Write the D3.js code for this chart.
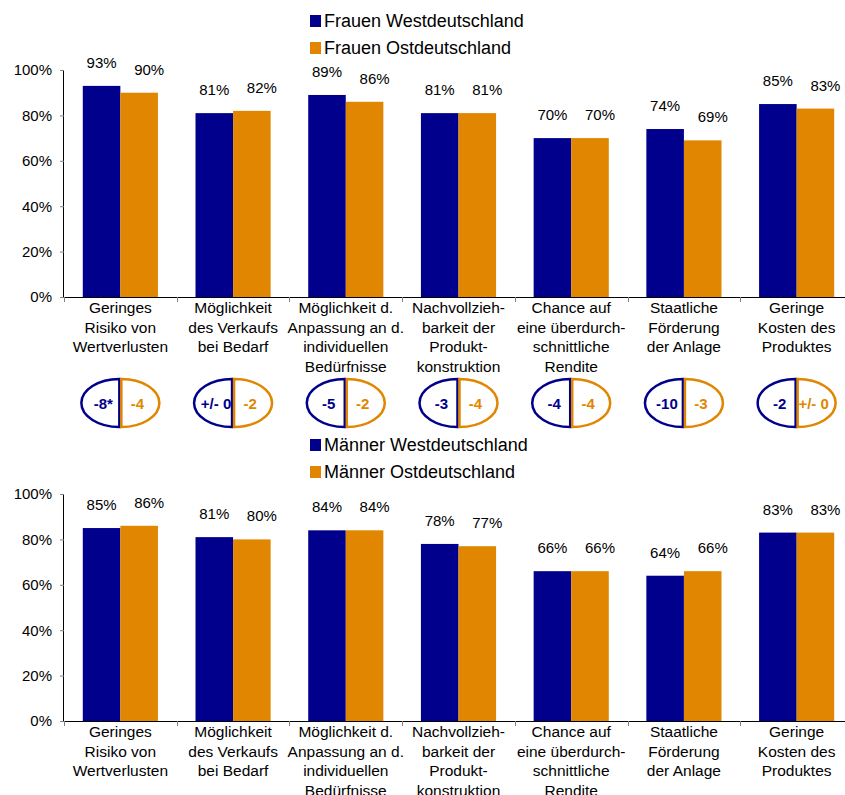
<!DOCTYPE html>
<html>
<head>
<meta charset="utf-8">
<script src="https://cdn.jsdelivr.net/npm/d3@7"></script>
<style>
  body { margin: 0; background: #fff; }
  text { font-family: "Liberation Sans", Arial, sans-serif; fill: #000; }
</style>
</head>
<body>
<script>
const width = 845;
const height = 795;

const blue = "#00008c";
const orange = "#e08600";

// categories (line breaks as in the chart)
const categories = [
  ["Geringes", "Risiko von", "Wertverlusten"],
  ["Möglichkeit", "des Verkaufs", "bei Bedarf"],
  ["Möglichkeit d.", "Anpassung an d.", "individuellen", "Bedürfnisse"],
  ["Nachvollzieh-", "barkeit der", "Produkt-", "konstruktion"],
  ["Chance auf", "eine überdurch-", "schnittliche", "Rendite"],
  ["Staatliche", "Förderung", "der Anlage"],
  ["Geringe", "Kosten des", "Produktes"]
];

const frauenWest = [93, 81, 89, 81, 70, 74, 85];
const frauenOst  = [90, 82, 86, 81, 70, 69, 83];
const maennerWest = [85, 81, 84, 78, 66, 64, 83];
const maennerOst  = [86, 80, 84, 77, 66, 66, 83];

// differences shown in the ovals
const diffWest = ["-8*", "+/- 0", "-5", "-3", "-4", "-10", "-2"];
const diffOst  = ["-4", "-2", "-2", "-4", "-4", "-3", "+/- 0"];

const yTicks = [0, 20, 40, 60, 80, 100];

const svg = d3.select("body")
  .append("svg")
  .attr("width", width)
  .attr("height", height);

var x0 = d3.scaleBand()
  .domain(d3.range(categories.length))
  .range([64, 853]);

var x1 = d3.scaleBand()
  .domain(["west", "ost"])
  .range([0, x0.bandwidth()])
  .paddingOuter(0.5);

function drawPanel(top, west, ost, legendNames) {
  var g = svg.append("g").attr("transform", "translate(0," + top + ")");

  var y = d3.scaleLinear().domain([0, 100]).range([297, 70]);

  // legend
  var legend = g.selectAll(".legend")
    .data([[legendNames[0], blue], [legendNames[1], orange]])
    .enter().append("g")
    .attr("transform", function(d, i) { return "translate(310," + (15 + i * 27) + ")"; });
  legend.append("rect")
    .attr("width", 11).attr("height", 12)
    .style("fill", function(d) { return d[1]; });
  legend.append("text")
    .attr("x", 14).attr("y", 12)
    .style("font-size", "18px")
    .text(function(d) { return d[0]; });

  // y axis
  var yAxis = d3.axisLeft(y)
    .tickValues(yTicks)
    .tickSize(4)
    .tickPadding(8)
    .tickFormat(function(d) { return d + "%"; });
  var ya = g.append("g")
    .attr("transform", "translate(64,0)")
    .call(yAxis);
  ya.select(".domain").attr("d", "M-0.5," + y(100) + "V" + y(0)).attr("stroke", "#000");
  ya.selectAll(".tick line").attr("stroke", "#808080");
  ya.selectAll("text").style("font-size", "15px").style("font-family", "Liberation Sans, Arial, sans-serif").attr("fill", "#000");

  // bars
  var rows = categories.map(function(c, i) {
    return [{ key: "west", i: i, v: west[i] }, { key: "ost", i: i, v: ost[i] }];
  });
  var grp = g.selectAll(".grp")
    .data(rows)
    .enter().append("g")
    .attr("transform", function(d, i) { return "translate(" + x0(i) + ",0)"; });

  grp.selectAll("rect")
    .data(function(d) { return d; })
    .enter().append("rect")
    .attr("x", function(d) { return x1(d.key); })
    .attr("width", x1.bandwidth())
    .attr("y", function(d) { return y(d.v); })
    .attr("height", function(d) { return y(0) - y(d.v); })
    .style("fill", function(d) { return d.key == "west" ? blue : orange; });

  grp.selectAll(".val")
    .data(function(d) { return d; })
    .enter().append("text")
    .attr("text-anchor", "middle")
    .attr("x", function(d) { return x1(d.key) + x1.bandwidth() / 2 + (d.key == "ost" ? 10 : 0); })
    .attr("y", function(d) { return y(d.v) - 18; })
    .style("font-size", "15px")
    .text(function(d) { return d.v + "%"; });

  // x axis line + ticks
  g.append("line")
    .attr("x1", 64).attr("x2", width)
    .attr("y1", y(0) + 0.5).attr("y2", y(0) + 0.5)
    .attr("stroke", "#000");
  g.selectAll(".xtick")
    .data(d3.range(categories.length))
    .enter().append("line")
    .attr("x1", function(d) { return Math.round(x0(d)) + 0.5; })
    .attr("x2", function(d) { return Math.round(x0(d)) + 0.5; })
    .attr("y1", y(0)).attr("y2", y(0) + 5)
    .attr("stroke", "#808080");

  // category labels
  g.selectAll(".cat")
    .data(categories)
    .enter().append("text")
    .attr("text-anchor", "middle")
    .attr("transform", function(d, i) { return "translate(" + (x0(i) + x0.bandwidth() / 2) + "," + (y(0) + 16) + ")"; })
    .style("font-size", "15.5px")
    .selectAll("tspan")
    .data(function(d) { return d; })
    .enter().append("tspan")
    .attr("x", 0)
    .attr("dy", function(d, j) { return j == 0 ? 0 : 19.5; })
    .text(function(d) { return d; });
}

drawPanel(0, frauenWest, frauenOst, ["Frauen Westdeutschland", "Frauen Ostdeutschland"]);
drawPanel(424, maennerWest, maennerOst, ["Männer Westdeutschland", "Männer Ostdeutschland"]);

// ovals with differences
var rx = 38, ry = 24, cy = 403;
var ovals = svg.selectAll(".oval")
  .data(categories.map(function(c, i) { return { i: i, w: diffWest[i], o: diffOst[i] }; }))
  .enter().append("g")
  .attr("transform", function(d) { return "translate(" + (x0(d.i) + x0.bandwidth() / 2) + "," + cy + ")"; });

ovals.append("path")
  .attr("d", "M-1," + (-ry) + "A" + rx + "," + ry + " 0 0 0 -1," + ry + "Z")
  .attr("fill", "none")
  .attr("stroke", blue)
  .attr("stroke-width", 2.5);
ovals.append("path")
  .attr("d", "M1," + (-ry) + "A" + rx + "," + ry + " 0 0 1 1," + ry + "Z")
  .attr("fill", "none")
  .attr("stroke", orange)
  .attr("stroke-width", 2.5);
ovals.append("text")
  .attr("x", -17).attr("y", 6)
  .attr("text-anchor", "middle")
  .style("font-size", "15px").style("font-weight", "bold")
  .style("fill", blue)
  .text(function(d) { return d.w; });
ovals.append("text")
  .attr("x", 17).attr("y", 6)
  .attr("text-anchor", "middle")
  .style("font-size", "15px").style("font-weight", "bold")
  .style("fill", orange)
  .text(function(d) { return d.o; });
</script>
</body>
</html>
